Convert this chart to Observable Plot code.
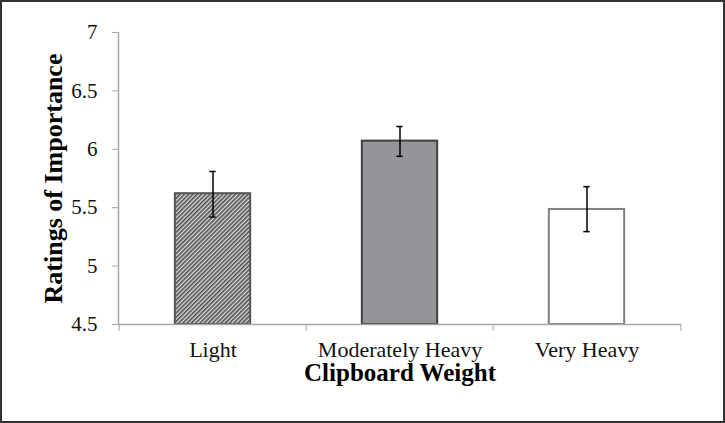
<!DOCTYPE html>
<html>
<head>
<meta charset="utf-8">
<script src="https://cdn.jsdelivr.net/npm/d3@7"></script>
<script src="https://cdn.jsdelivr.net/npm/@observablehq/plot@0.6"></script>
<style>
  html, body { margin: 0; padding: 0; background: #fff; }
  #wrap { position: relative; width: 725px; height: 423px; }
  #border { position: absolute; left: 0; top: 0; width: 725px; height: 423px; box-sizing: border-box; border: 2px solid #333; pointer-events: none; }
</style>
</head>
<body>
<div id="wrap"><div id="chart"></div><div id="border"></div></div>
<script>
const categories = ["Light", "Moderately Heavy", "Very Heavy"];
const means = [5.62, 6.07, 5.485];
const errLow = [5.42, 5.94, 5.295];
const errHigh = [5.81, 6.195, 5.68];
const yTicks = [4.5, 5, 5.5, 6, 6.5, 7];
const barFills = ["url(#hatch)", "#939598", "#ffffff"];
const barStrokes = ["#555555", "#404040", "#808080"];
const yLabel = "Ratings of Importance";
const xLabel = "Clipboard Weight";

const data = categories.map((c, i) => ({
  cat: c, mean: means[i], lo: errLow[i], hi: errHigh[i], fill: barFills[i], stroke: barStrokes[i]
}));

const W = 725, H = 423, mL = 118, mR = 44, mT = 32, mB = 99;
const step = (W - mL - mR) / categories.length;
const barW = 76, capW = 7;
const axisGray = "#a6a6a6";
const serif = "'Liberation Serif', 'Times New Roman', serif";

const defs = () => {
  const g = d3.create("svg:defs");
  const p = g.append("pattern").attr("id", "hatch").attr("patternUnits", "userSpaceOnUse")
    .attr("width", 3).attr("height", 3).attr("patternTransform", "rotate(45)");
  p.append("rect").attr("width", 3).attr("height", 3).attr("fill", "#dcdcdc");
  p.append("rect").attr("width", 1.6).attr("height", 3).attr("fill", "#4d4d4d");
  return g.node();
};

const chart = Plot.plot({
  width: W, height: H,
  marginLeft: mL, marginRight: mR, marginTop: mT, marginBottom: mB,
  style: { fontFamily: serif, background: "transparent", color: "#111" },
  x: { domain: categories, padding: 0, label: null },
  y: { domain: [yTicks[0], yTicks[yTicks.length - 1]], label: null },
  color: { type: "identity" },
  marks: [
    defs,
    Plot.barY(data, {
      x: "cat", y1: () => yTicks[0], y2: "mean",
      fill: "fill", stroke: "stroke", strokeWidth: 2,
      insetLeft: (step - barW) / 2, insetRight: (step - barW) / 2
    }),
    Plot.ruleY([yTicks[0]], { stroke: axisGray, strokeWidth: 1.5 }),
    Plot.frame({ anchor: "left", stroke: axisGray, strokeWidth: 1.5 }),
    Plot.axisY({ ticks: yTicks, tickSize: 6, tickPadding: 15, fontSize: 21, stroke: axisGray, tickFormat: d => String(d), label: null }),
    Plot.axisX({ ticks: categories, tickSize: 7, text: null, dx: -step / 2, stroke: axisGray, label: null }),
    Plot.axisX({ ticks: categories.slice(-1), tickSize: 7, text: null, dx: step / 2, stroke: axisGray, label: null }),
    Plot.axisX({ ticks: categories, tickSize: 0, tickPadding: 17, fontSize: 22, label: null }),
    Plot.ruleX(data, { x: "cat", y1: "lo", y2: "hi", stroke: "#000", strokeWidth: 1.5 }),
    Plot.tickY(data, { x: "cat", y: "lo", stroke: "#000", strokeWidth: 1.5, insetLeft: (step - capW) / 2, insetRight: (step - capW) / 2 }),
    Plot.tickY(data, { x: "cat", y: "hi", stroke: "#000", strokeWidth: 1.5, insetLeft: (step - capW) / 2, insetRight: (step - capW) / 2 }),
    Plot.text([xLabel], { frameAnchor: "bottom", dy: 48, lineAnchor: "middle", textAnchor: "middle", text: d => d, fontSize: 25, fontWeight: "bold", fill: "#000" }),
    Plot.text([yLabel], { frameAnchor: "left", dx: -65, rotate: -90, lineAnchor: "middle", textAnchor: "middle", text: d => d, fontSize: 26, fontWeight: "bold", fill: "#000" })
  ]
});
document.getElementById("chart").appendChild(chart);
</script>
</body>
</html>
